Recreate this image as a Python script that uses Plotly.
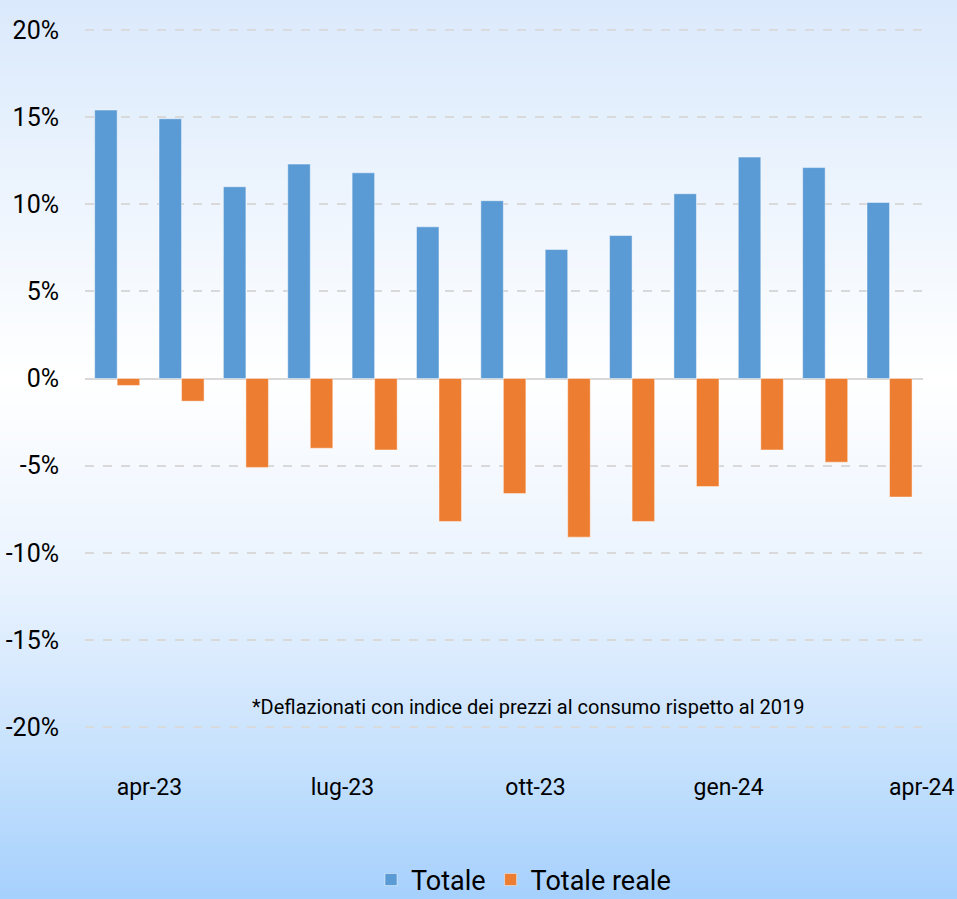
import plotly.graph_objects as go

months = ["apr-23", "mag-23", "giu-23", "lug-23", "ago-23", "set-23", "ott-23",
          "nov-23", "dic-23", "gen-24", "feb-24", "mar-24", "apr-24"]
totale = [15.4, 14.9, 11.0, 12.3, 11.8, 8.7, 10.2, 7.4, 8.2, 10.6, 12.7, 12.1, 10.1]
totale_reale = [-0.4, -1.3, -5.1, -4.0, -4.1, -8.2, -6.6, -9.1, -8.2, -6.2, -4.1, -4.8, -6.8]
tick_labels = ["apr-23", "lug-23", "ott-23", "gen-24", "apr-24"]
tick_months = [0, 3, 6, 9, 12]
y_ticks = [-20, -15, -10, -5, 0, 5, 10, 15, 20]
y_tick_text = [f"{v}%" for v in y_ticks]
footnote = "*Deflazionati con indice dei prezzi al consumo rispetto al 2019"

FONT = "Roboto, Liberation Sans, sans-serif"

W, H = 957, 899
ML, MR, MT, MB = 85, 34, 29, 171
plot_w = W - ML - MR
plot_h = H - MT - MB
Y_MIN, Y_MAX = min(y_ticks), max(y_ticks)

x_idx = list(range(len(months)))

fig = go.Figure()
fig.add_trace(go.Bar(x=x_idx, y=totale, name="Totale",
                     marker=dict(color="#5B9BD5", line=dict(color="rgba(255,255,255,0.45)", width=1)),
                     customdata=months, hovertemplate="%{customdata}: %{y}%<extra>Totale</extra>"))
fig.add_trace(go.Bar(x=x_idx, y=totale_reale, name="Totale reale",
                     marker=dict(color="#ED7D31", line=dict(color="rgba(255,255,255,0.45)", width=1)),
                     customdata=months, hovertemplate="%{customdata}: %{y}%<extra>Totale reale</extra>"))

# background vertical gradient (style only)
stops = [(0, (218, 233, 252)), (380, (255, 255, 255)), (590, (232, 242, 254)),
         (770, (196, 224, 253)), (899, (166, 208, 253))]

def col_at(p):
    for (p0, c0), (p1, c1) in zip(stops[:-1], stops[1:]):
        if p0 <= p <= p1:
            t = (p - p0) / (p1 - p0)
            return "rgb(%d,%d,%d)" % tuple(round(a + (b - a) * t) for a, b in zip(c0, c1))
    return "rgb(%d,%d,%d)" % stops[-1][1]

shapes = []
step = 4
for p in range(0, H, step):
    y0 = (H - MB - (p + step)) / plot_h
    y1 = (H - MB - p) / plot_h
    shapes.append(dict(type="rect", xref="paper", yref="paper",
                       x0=-ML / plot_w - 0.01, x1=1 + MR / plot_w + 0.01,
                       y0=y0 - 0.001, y1=y1 + 0.001,
                       fillcolor=col_at(p + step / 2), line=dict(width=0), layer="below"))
# gridlines at the range edges (plotly drops them at the plot border)
for yv in (Y_MIN, Y_MAX):
    shapes.append(dict(type="line", xref="paper", yref="y", x0=0, x1=1, y0=yv, y1=yv,
                       line=dict(color="#d9d9d9", width=2, dash="dash"), layer="below"))

fig.update_layout(
    width=W, height=H,
    margin=dict(l=ML, r=MR, t=MT, b=MB, autoexpand=False),
    paper_bgcolor="#ffffff",
    plot_bgcolor="rgba(0,0,0,0)",
    barmode="group", bargap=0.3, bargroupgap=0,
    shapes=shapes,
    font=dict(family=FONT, color="#000000", size=24),
    showlegend=True,
    legend=dict(orientation="h", x=(371 - ML) / plot_w, xanchor="left",
                y=(H - MB - 880) / plot_h, yanchor="middle",
                font=dict(size=27, family=FONT, color="#000000"), bgcolor="rgba(0,0,0,0)",
                traceorder="normal"),
    annotations=[dict(text=footnote, xref="paper", yref="paper", x=(528 - ML) / plot_w,
                      y=(H - MB - 707) / plot_h,
                      xanchor="center", yanchor="middle", showarrow=False,
                      font=dict(size=20, family=FONT, color="#000000"))],
)
fig.update_xaxes(range=[-0.5, len(months) - 0.48],
                 tickmode="array", tickvals=[m + 0.5 for m in tick_months], ticktext=tick_labels,
                 showgrid=False, zeroline=False, showline=False,
                 ticks="outside", ticklen=38, tickcolor="rgba(0,0,0,0)",
                 ticklabeloverflow="allow",
                 tickfont=dict(size=23, family=FONT))
fig.update_yaxes(range=[Y_MIN - 0.05, Y_MAX + 0.05], tickmode="array", tickvals=y_ticks,
                 ticktext=y_tick_text,
                 showgrid=True, gridcolor="#d9d9d9", gridwidth=2, griddash="dash",
                 zeroline=True, zerolinecolor="#d9d9d9", zerolinewidth=2,
                 showline=False, ticks="outside", ticklen=20, tickcolor="rgba(0,0,0,0)",
                 tickfont=dict(size=25, family=FONT))

fig.write_html("out.html", config={"displayModeBar": False},
               post_script="document.body.style.margin='0';document.body.style.overflow='hidden';")
